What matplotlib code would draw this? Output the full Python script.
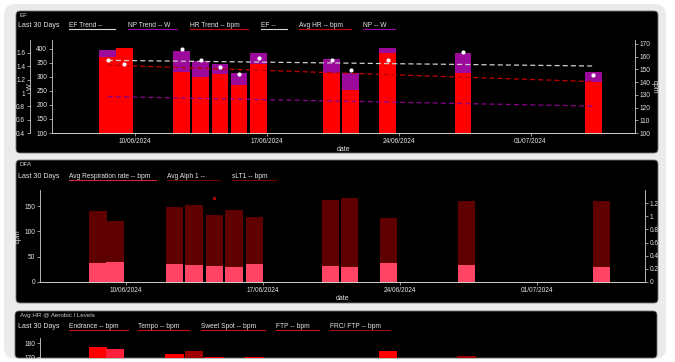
import numpy as np
import matplotlib
matplotlib.use('Agg')
import matplotlib.pyplot as plt
import matplotlib.dates as mdates
from matplotlib.patches import FancyBboxPatch
from matplotlib.lines import Line2D
from matplotlib.transforms import Affine2D
from matplotlib.ticker import FuncFormatter

plt.rcParams['font.family'] = ['Liberation Sans', 'DejaVu Sans']

# ---- data ----
dates = np.array(['2024-06-08T14:00', '2024-06-09T11:00', '2024-06-12T12:00', '2024-06-13T12:00',
                  '2024-06-14T13:00', '2024-06-15T13:00', '2024-06-16T14:00', '2024-06-20T11:00',
                  '2024-06-21T11:00', '2024-06-23T10:00', '2024-06-27T10:00', '2024-07-04T08:00'],
                 dtype='datetime64[m]')
x_start = np.datetime64('2024-06-05T15:00')
x_end = np.datetime64('2024-07-06T13:00')
date_ticks = np.array(['2024-06-10', '2024-06-17', '2024-06-24', '2024-07-01'], dtype='datetime64[m]')

# EF panel
np_w = [396, 340, 393, 357, 345, 313, 385, 363, 315, 405, 385, 319]
avg_hr = [159.6, 167, 148, 144, 146, 137.5, 154, 147, 134, 163, 147, 140]
ef = [1.49, 1.43, 1.66, 1.495, 1.39, 1.28, 1.52, 1.49, 1.34, 1.50, 1.62, 1.27]
trend_dates = np.array(['2024-06-08T14:00', '2024-07-04T08:00'], dtype='datetime64[m]')
ef_trend = [1.49, 1.405]
hr_trend = [153.4, 140.4]
np_trend = [230, 196]

# DFA panel
slt1 = [140, 121, 148, 152, 132, 142, 128, 161, 165, 126, 159, 159]
resp_rate = [37.4, 38.6, 35.4, 33.5, 30.7, 29.5, 35.4, 32, 28.7, 37.4, 33.5, 30]
alpha1 = [np.nan, np.nan, np.nan, np.nan, 1.28, np.nan, np.nan, np.nan, np.nan, np.nan, np.nan, np.nan]

# Aerobic levels panel (only the top of it is visible)
zone_idx = [0, 1, 2, 3, 4, 6, 9, 10]
zone_hr = [177.6, 175.7, 172.1, 174.7, 170, 170.4, 174.5, 171.1]
zone_colors = ['#ff0000', '#ff1f3d', '#ff0000', '#a00000', '#ff0000', '#ff0000', '#ff0000', '#a00000']

ef_legend = ['EF Trend --', 'NP Trend -- W', 'HR Trend -- bpm', 'EF --', 'Avg HR -- bpm', 'NP -- W']
ef_legend_col = ['#d8d8d8', '#990099', '#cc0000', '#d8d8d8', '#cc0000', '#990099']
ef_legend_x = [69, 128, 190, 261, 299, 363]
ef_legend_end = [115, 177, 248, 287, 351, 395]

dfa_legend = ['Avg Respiration rate -- bpm', 'Avg Alph 1 --', 'sLT1 -- bpm']
dfa_legend_col = ['#d0203c', '#6a0000', '#7a0000']
dfa_legend_x = [69, 167, 232]
dfa_legend_end = [156, 220, 276]

zone_legend = ['Endrance -- bpm', 'Tempo -- bpm', 'Sweet Spot -- bpm', 'FTP -- bpm', 'FRC/ FTP -- bpm']
zone_legend_col = ['#cc1111', '#cc1111', '#cc1111', '#cc1111', '#991111']
zone_legend_x = [69, 138, 201, 276, 330]
zone_legend_end = [128, 189, 265, 319, 390]

W, H = 675, 362
fig = plt.figure(figsize=(W / 100, H / 100), dpi=100, facecolor='white')
pix = Affine2D().scale(1 / W, -1 / H).translate(0, 1) + fig.transFigure

TXT = '#e6e6e6'
SPINE = '#d0d0d0'


def rbox(x0, y0, x1, y1, r, fc, z, ec='none'):
    p = FancyBboxPatch((x0, y0), x1 - x0, y1 - y0, boxstyle=f'round,pad=0,rounding_size={r}',
                       transform=pix, fc=fc, ec=ec, lw=0.6, zorder=z)
    fig.add_artist(p)
    return p


def add_ax(x0, y0, x1, y1):
    ax = fig.add_axes([x0 / W, 1 - y1 / H, (x1 - x0) / W, (y1 - y0) / H])
    ax.set_facecolor('none')
    return ax


def style(ax):
    for s in ax.spines.values():
        s.set_color(SPINE)
        s.set_linewidth(0.6)
    ax.spines['top'].set_visible(False)
    ax.tick_params(colors=SPINE, labelcolor=TXT, labelsize=4.7, length=2.5, width=0.5, pad=1)


def legend_row(y, names, cols, xs, ends):
    fig.text(18, y, 'Last 30 Days', transform=pix, color=TXT, fontsize=5, va='center')
    for n, c, x, e in zip(names, cols, xs, ends):
        fig.text(x, y, n, transform=pix, color=TXT, fontsize=4.8, va='center')
        fig.add_artist(Line2D([x, e], [y + 3.5, y + 3.5], transform=pix, color=c, lw=0.8))


def date_axis(ax):
    ax.set_xlim(x_start, x_end)
    ax.set_xticks(date_ticks)
    ax.xaxis.set_major_formatter(mdates.DateFormatter('%d/%m/%Y'))
    ax.set_xlabel('date', color=TXT, fontsize=5, labelpad=1)


g_fmt = FuncFormatter(lambda v, p: f'{v:g}')

# background card + panels
rbox(4, 4, 666, 359, 12, '#ebebeb', -3)
rbox(16, 11, 658, 153, 4, 'black', -2, ec='#777777')
rbox(16, 160, 658, 303, 4, 'black', -2, ec='#777777')
p3 = rbox(15, 311, 657, 358, 4, 'black', -2, ec='#777777')

# ---- EF panel ----
fig.text(20, 15.5, 'EF', transform=pix, color='#cccccc', fontsize=4.5, va='center')
legend_row(25.5, ef_legend, ef_legend_col, ef_legend_x, ef_legend_end)

ax_w = add_ax(52, 40, 635, 133)
ax_hr = ax_w.twinx()
ax_ef = ax_w.twinx()
for a in (ax_w, ax_hr, ax_ef):
    style(a)
    a.set_facecolor('none')

ax_w.bar(dates, np_w, width=0.88, color='#9b0a9b', zorder=2)
ax_hr.bar(dates, avg_hr, width=0.88, color='#ff0000', zorder=2)
ax_ef.plot(trend_dates, np_trend, transform=ax_w.transData, color='#8a008a', lw=0.9, dashes=(4, 2.5))
ax_ef.plot(trend_dates, hr_trend, transform=ax_hr.transData, color='#c00000', lw=0.9, dashes=(4, 2.5))
ax_ef.plot(trend_dates, ef_trend, color='#cfcfcf', lw=0.9, dashes=(4, 2.5))
ax_ef.plot(dates, ef, 'o', color='white', ms=3, mec='none')

ax_w.set_ylim(100, 432)
ax_w.set_yticks(np.arange(100, 401, 50))
ax_w.set_ylabel('W', color=TXT, fontsize=5, labelpad=1.5)
ax_w.spines['right'].set_visible(False)

ax_hr.set_ylim(100, 173.1)
ax_hr.set_yticks(np.arange(100, 171, 10))
ax_hr.set_ylabel('bpm', color=TXT, fontsize=5, rotation=270, labelpad=5)
ax_hr.spines['left'].set_visible(False)

ax_ef.set_ylim(0.4, 1.795)
ax_ef.set_yticks(np.arange(0.4, 1.61, 0.2))
ax_ef.yaxis.set_major_formatter(g_fmt)
ax_ef.yaxis.set_ticks_position('left')
ax_ef.spines['right'].set_visible(False)
ax_ef.spines['bottom'].set_visible(False)
ax_ef.spines['left'].set_visible(True)
ax_ef.spines['left'].set_position(('axes', -22 / 583))
date_axis(ax_w)

# ---- DFA panel ----
fig.text(20, 165, 'DFA', transform=pix, color='#cccccc', fontsize=4.5, va='center')
legend_row(176, dfa_legend, dfa_legend_col, dfa_legend_x, dfa_legend_end)

ax_d = add_ax(40, 190, 645, 282)
ax_a = ax_d.twinx()
for a in (ax_d, ax_a):
    style(a)
    a.set_facecolor('none')
ax_d.bar(dates, slt1, width=0.88, color='#5e0000')
ax_d.bar(dates, resp_rate, width=0.88, color='#ff4563')
ax_a.plot(dates, alpha1, 'o', color='#b00000', ms=2.5, mec='none')
ax_d.set_ylim(0, 181.6)
ax_d.set_yticks([0, 50, 100, 150])
ax_d.set_ylabel('bpm', color=TXT, fontsize=5, labelpad=2)
ax_d.spines['right'].set_visible(False)
ax_a.set_ylim(0, 1.40)
ax_a.set_yticks(np.arange(0, 1.21, 0.2))
ax_a.yaxis.set_major_formatter(g_fmt)
ax_a.spines['left'].set_visible(False)
date_axis(ax_d)

# ---- Aerobic levels panel ----
fig.text(20, 315.5, 'Avg HR @ Aerobic l Levels', transform=pix, color='#cccccc', fontsize=4.5, va='center')
legend_row(326.5, zone_legend, zone_legend_col, zone_legend_x, zone_legend_end)

ax_z = add_ax(40, 338, 645, 358)
style(ax_z)
ax_z.bar(dates[zone_idx], zone_hr, width=0.95, color=zone_colors)
ax_z.set_xlim(x_start, x_end)
ax_z.set_ylim(169.5, 183.8)
ax_z.set_yticks([170, 180])
ax_z.set_xticks([])
for s in ('bottom', 'right'):
    ax_z.spines[s].set_visible(False)
for t in ax_z.get_yticklabels():
    t.set_clip_path(p3)

fig.savefig('out.png', dpi=100, facecolor='white')
